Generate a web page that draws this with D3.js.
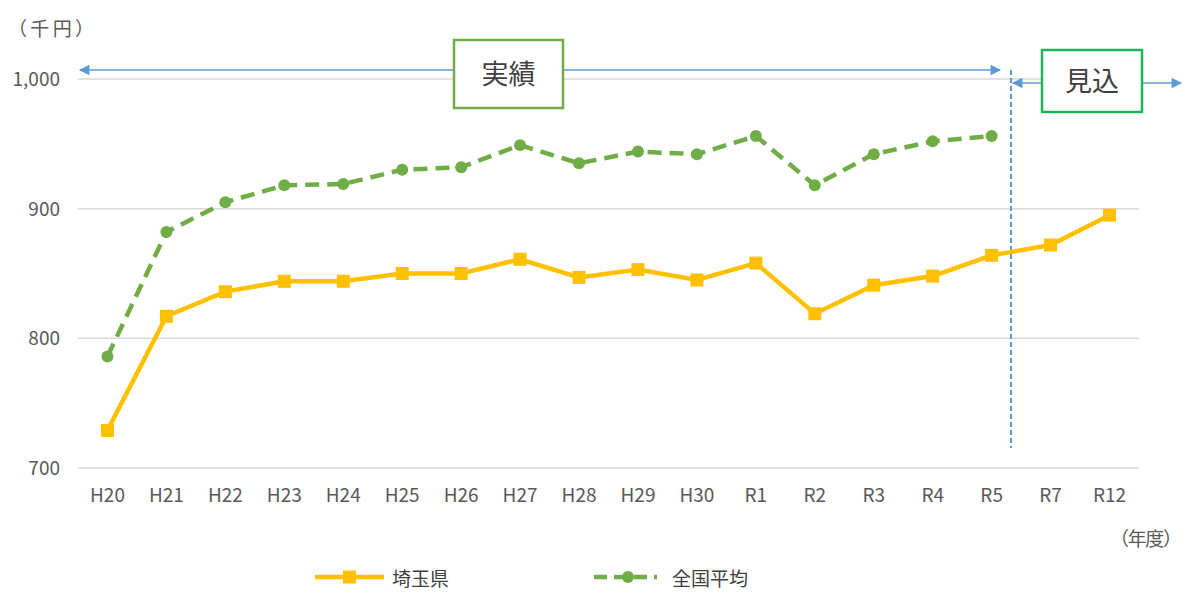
<!DOCTYPE html>
<html>
<head>
<meta charset="utf-8">
<script src="https://cdn.jsdelivr.net/npm/d3@7"></script>
<style>
  body { margin: 0; background: #fff; }
  text { font-family: "Noto Sans CJK JP", "Noto Sans", sans-serif; }
</style>
</head>
<body>
<svg width="1184" height="592"></svg>
<script>
// data
var years = ["H20","H21","H22","H23","H24","H25","H26","H27","H28","H29","H30","R1","R2","R3","R4","R5","R7","R12"];
var saitama = [729, 817, 836, 844, 844, 850, 850, 861, 847, 853, 845, 858, 819, 841, 848, 864, 872, 895];
var national = [786, 882, 905, 918, 919, 930, 932, 949, 935, 944, 942, 956, 918, 942, 952, 956];
var yTicks = [700, 800, 900, 1000];

var svg = d3.select("svg"),
    plotLeft = 78, plotRight = 1139, plotTop = 79, plotBottom = 468;

var x = d3.scaleBand()
    .domain(years)
    .range([plotLeft, plotRight]);

var y = d3.scaleLinear()
    .domain([700, 1000])
    .range([plotBottom, plotTop]);

var cx = function (d, i) { return x(years[i]) + x.bandwidth() / 2; };

// arrowhead
var defs = svg.append("defs");
defs.append("marker")
    .attr("id", "arr")
    .attr("viewBox", "0 0 10 10")
    .attr("refX", 9).attr("refY", 5)
    .attr("markerWidth", 8).attr("markerHeight", 7)
    .attr("orient", "auto-start-reverse")
    .attr("markerUnits", "strokeWidth")
  .append("path")
    .attr("d", "M0,0L10,5L0,10z")
    .attr("fill", "#5b9bd5");

// gridlines
svg.append("g")
    .selectAll("line")
    .data(yTicks)
    .enter().append("line")
    .attr("x1", plotLeft).attr("x2", plotRight)
    .attr("y1", function (d) { return y(d); })
    .attr("y2", function (d) { return y(d); })
    .attr("stroke", "#d9d9d9")
    .attr("stroke-width", 1.5);

// y axis labels
svg.append("g")
    .selectAll("text")
    .data(yTicks)
    .enter().append("text")
    .attr("x", 60)
    .attr("y", function (d) { return y(d) + 7; })
    .attr("text-anchor", "end")
    .attr("font-size", 19)
    .attr("fill", "#595959")
    .text(d3.format(","));

// x axis labels
svg.append("g")
    .selectAll("text")
    .data(years)
    .enter().append("text")
    .attr("x", function (d) { return x(d) + x.bandwidth() / 2; })
    .attr("y", 502)
    .attr("text-anchor", "middle")
    .attr("font-size", 19)
    .attr("fill", "#595959")
    .text(function (d) { return d; });

svg.append("text")
    .attr("x", 8).attr("y", 36)
    .attr("font-size", 19)
    .attr("textLength", 86)
    .attr("lengthAdjust", "spacing")
    .attr("fill", "#595959")
    .text("（千円）");

svg.append("text")
    .attr("x", 1110).attr("y", 546)
    .attr("font-size", 19)
    .attr("textLength", 72)
    .attr("lengthAdjust", "spacing")
    .attr("fill", "#595959")
    .text("（年度）");

// divider between actual and forecast
svg.append("line")
    .attr("x1", 1011).attr("x2", 1011)
    .attr("y1", 70).attr("y2", 448)
    .attr("stroke", "#5b9bd5")
    .attr("stroke-width", 2)
    .attr("stroke-dasharray", "5,3");

// period arrows
svg.append("line")
    .attr("x1", 80).attr("x2", 1000)
    .attr("y1", 70).attr("y2", 70)
    .attr("stroke", "#5b9bd5").attr("stroke-width", 1.5)
    .attr("marker-start", "url(#arr)")
    .attr("marker-end", "url(#arr)");

svg.append("line")
    .attr("x1", 1013).attr("x2", 1181)
    .attr("y1", 83).attr("y2", 83)
    .attr("stroke", "#5b9bd5").attr("stroke-width", 1.5)
    .attr("marker-start", "url(#arr)")
    .attr("marker-end", "url(#arr)");

// label boxes
function box(x0, y0, w, h, col, label) {
    svg.append("rect")
        .attr("x", x0).attr("y", y0)
        .attr("width", w).attr("height", h)
        .attr("fill", "#fff")
        .attr("stroke", col)
        .attr("stroke-width", 2.5);
    svg.append("text")
        .attr("x", x0 + w / 2).attr("y", y0 + h / 2 + 10)
        .attr("text-anchor", "middle")
        .attr("font-size", 27)
        .attr("fill", "#404040")
        .text(label);
}
box(454, 40, 109, 68, "#70ad47", "実績");
box(1042, 50, 100, 62, "#1fb35a", "見込");

// lines
var line = d3.line()
    .x(cx)
    .y(function (d) { return y(d); });

svg.append("path")
    .datum(national)
    .attr("d", line)
    .attr("fill", "none")
    .attr("stroke", "#70ad47")
    .attr("stroke-width", 4.5)
    .attr("stroke-dasharray", "14,8");

svg.append("g")
    .selectAll("circle")
    .data(national)
    .enter().append("circle")
    .attr("cx", cx)
    .attr("cy", function (d) { return y(d); })
    .attr("r", 6)
    .attr("fill", "#70ad47");

svg.append("path")
    .datum(saitama)
    .attr("d", line)
    .attr("fill", "none")
    .attr("stroke", "#ffc000")
    .attr("stroke-width", 4.5);

svg.append("g")
    .selectAll("rect")
    .data(saitama)
    .enter().append("rect")
    .attr("x", function (d, i) { return cx(d, i) - 6.5; })
    .attr("y", function (d) { return y(d) - 6.5; })
    .attr("width", 13).attr("height", 13)
    .attr("fill", "#ffc000");

// legend
var ly = 577;
var lg = svg.append("g");
lg.append("line")
    .attr("x1", 315).attr("x2", 384).attr("y1", ly).attr("y2", ly)
    .attr("stroke", "#ffc000").attr("stroke-width", 4.5);
lg.append("rect")
    .attr("x", 343).attr("y", ly - 6.5).attr("width", 13).attr("height", 13)
    .attr("fill", "#ffc000");
lg.append("text")
    .attr("x", 392).attr("y", ly)
    .attr("dominant-baseline", "central")
    .attr("font-size", 19).attr("fill", "#404040")
    .text("埼玉県");

lg.append("line")
    .attr("x1", 594).attr("x2", 657).attr("y1", ly).attr("y2", ly)
    .attr("stroke", "#70ad47").attr("stroke-width", 4.5)
    .attr("stroke-dasharray", "13,7");
lg.append("circle")
    .attr("cx", 628).attr("cy", ly).attr("r", 6)
    .attr("fill", "#70ad47");
lg.append("text")
    .attr("x", 672).attr("y", ly)
    .attr("dominant-baseline", "central")
    .attr("font-size", 19).attr("fill", "#404040")
    .text("全国平均");
</script>
</body>
</html>
